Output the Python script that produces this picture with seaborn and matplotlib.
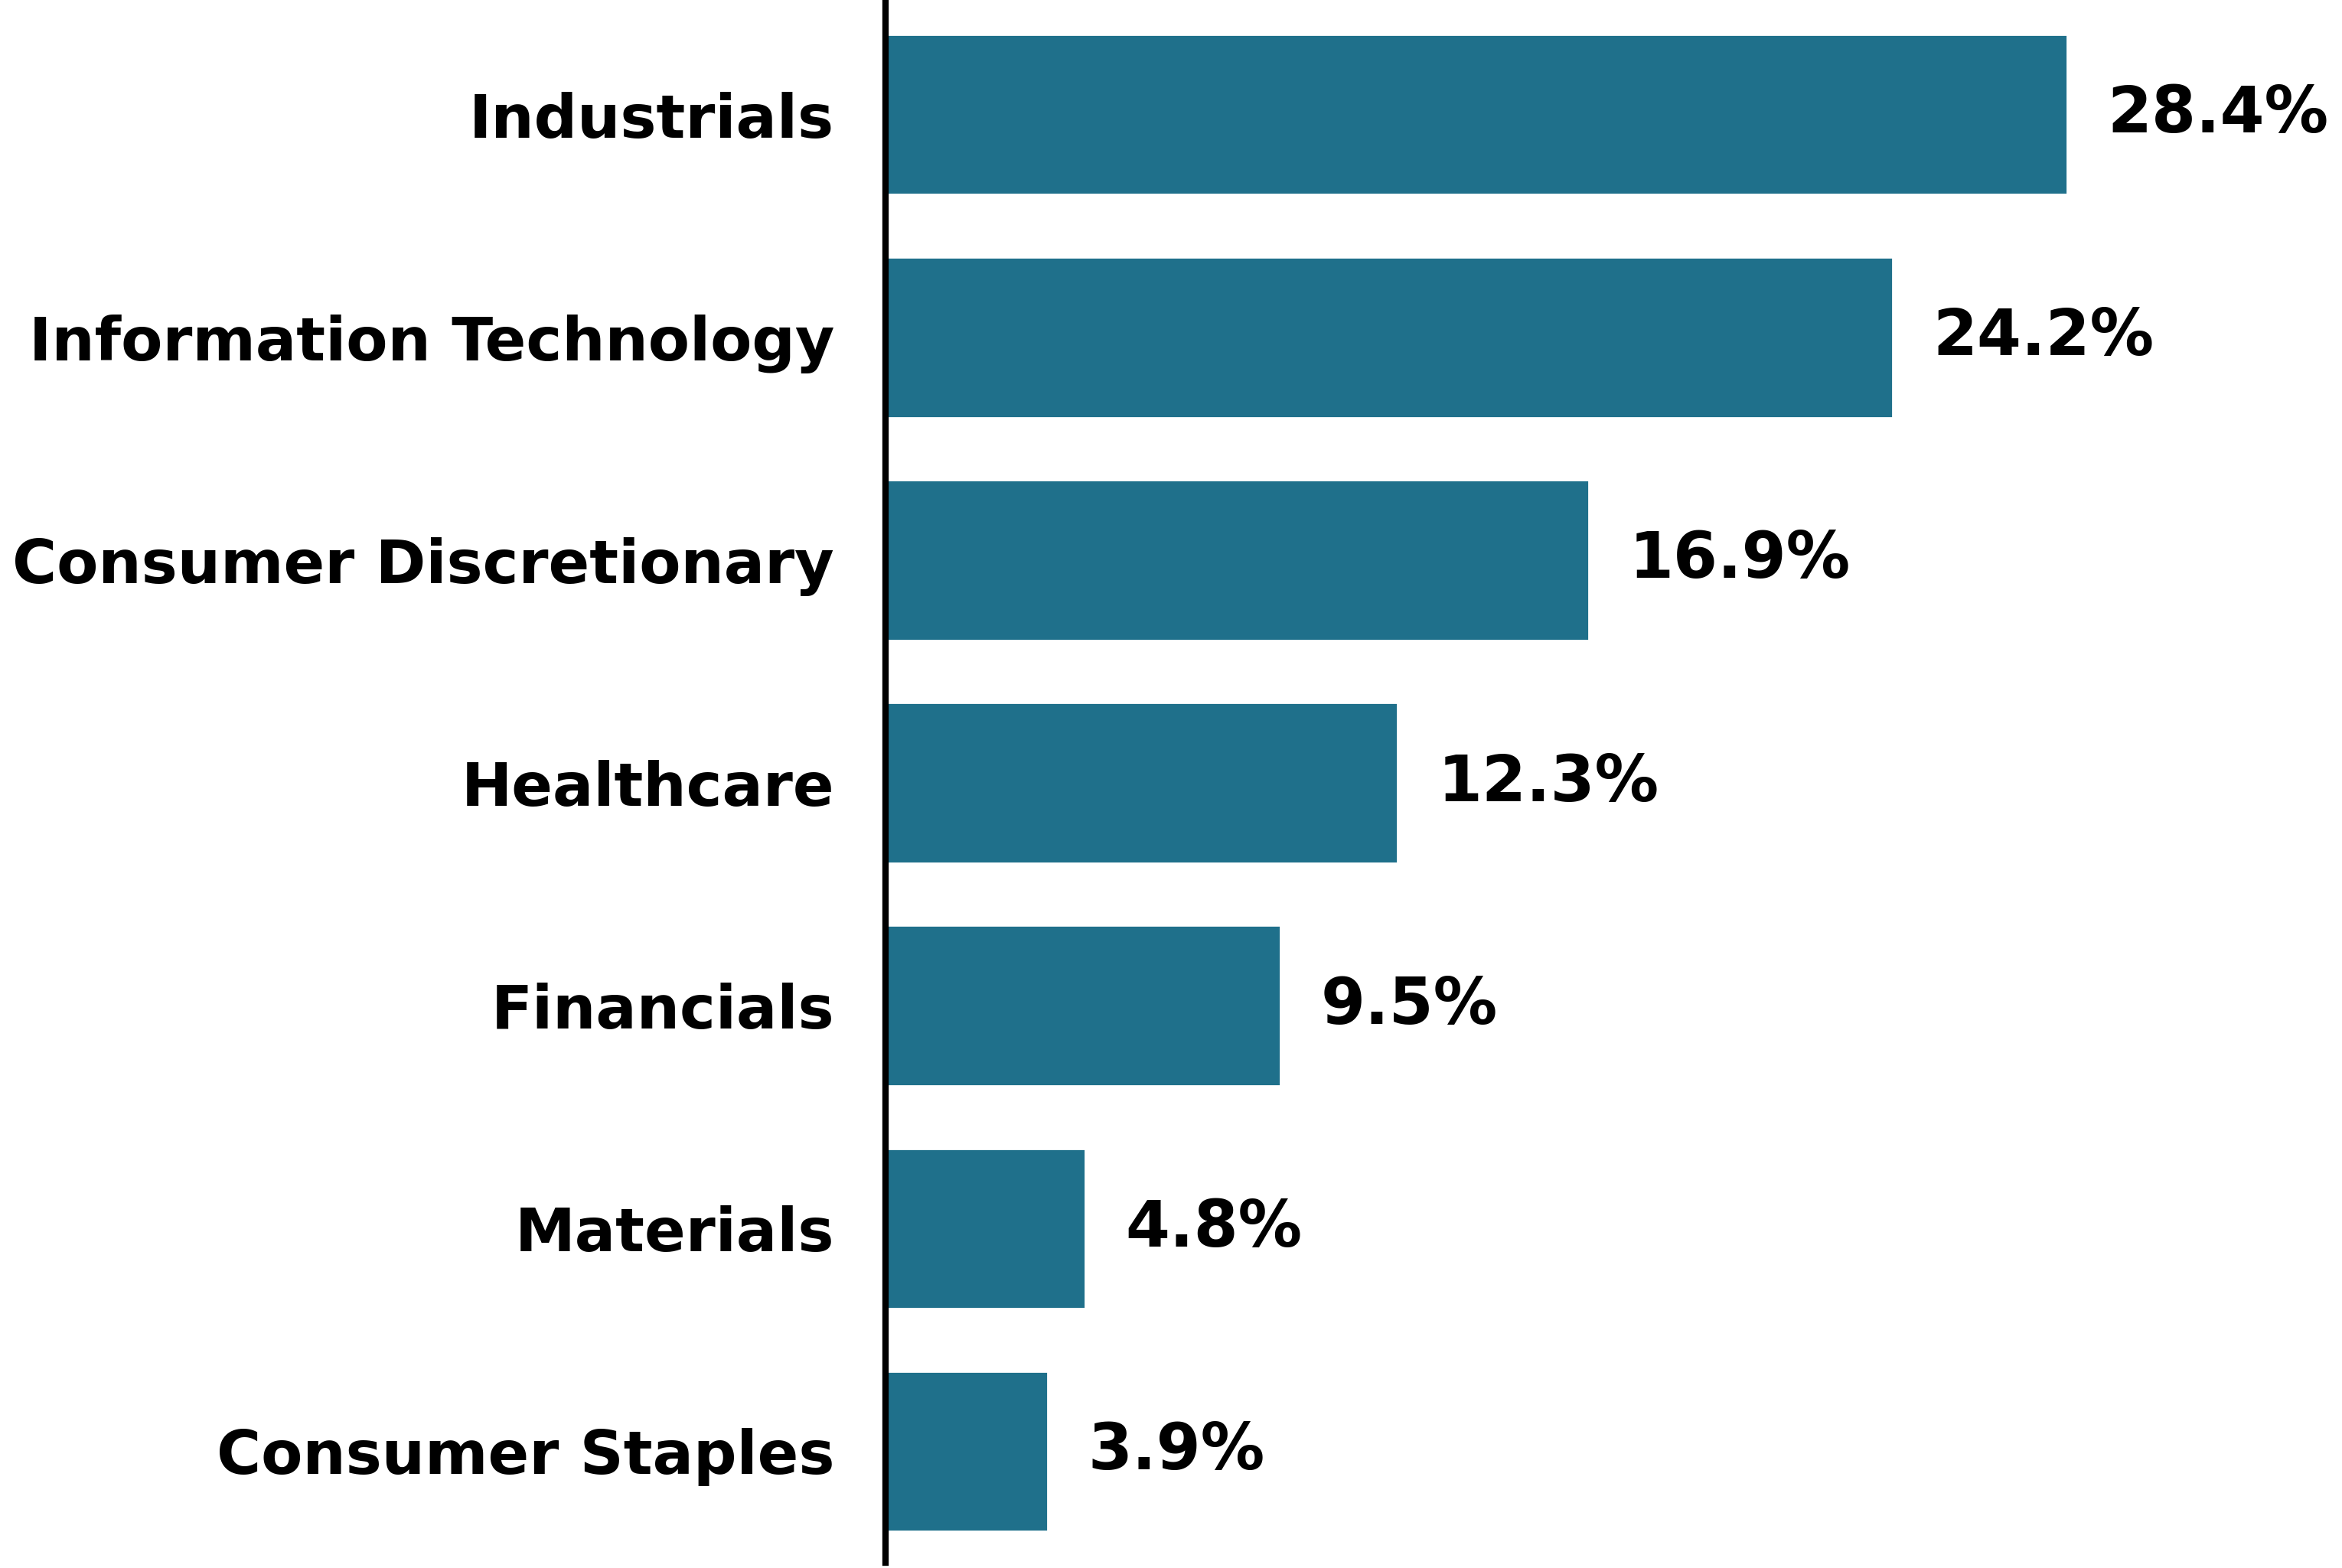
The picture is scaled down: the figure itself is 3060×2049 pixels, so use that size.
import pandas as pd
import seaborn as sns
import matplotlib.pyplot as plt

sectors = ['Industrials', 'Information Technology', 'Consumer Discretionary',
           'Healthcare', 'Financials', 'Materials', 'Consumer Staples']
weights = [28.4, 24.2, 16.9, 12.3, 9.5, 4.8, 3.9]

data = pd.DataFrame({'Sector': sectors, 'Weight': weights})

sns.set_style('white')
plt.rcParams['font.family'] = ['DejaVu Sans']

fig = plt.figure(figsize=(15.3, 10.245), dpi=200)
ax = fig.add_axes([0.378, 0.0034, 0.622, 0.9946])

sns.barplot(data=data, x='Weight', y='Sector', orient='h', color='#1f708b',
            width=0.72, saturation=1, ax=ax)

# value labels to the right of each bar
ax.bar_label(ax.containers[0], labels=[f'{w}%' for w in weights], padding=19,
             fontsize=30, fontweight='bold', color='black')

ax.set_xlim(0, 35)
ax.set_ylim(6.5, -0.5)
ax.set_xlabel('')
ax.set_ylabel('')
ax.set_xticks([])
ax.tick_params(axis='y', length=0, pad=24, labelsize=28.5, labelcolor='black')
for lab in ax.get_yticklabels():
    lab.set_fontweight('bold')

for side in ['top', 'right', 'bottom']:
    ax.spines[side].set_visible(False)
ax.spines['left'].set_linewidth(3)
ax.spines['left'].set_color('black')

fig.savefig('out.png', dpi=200)
plt.close()
